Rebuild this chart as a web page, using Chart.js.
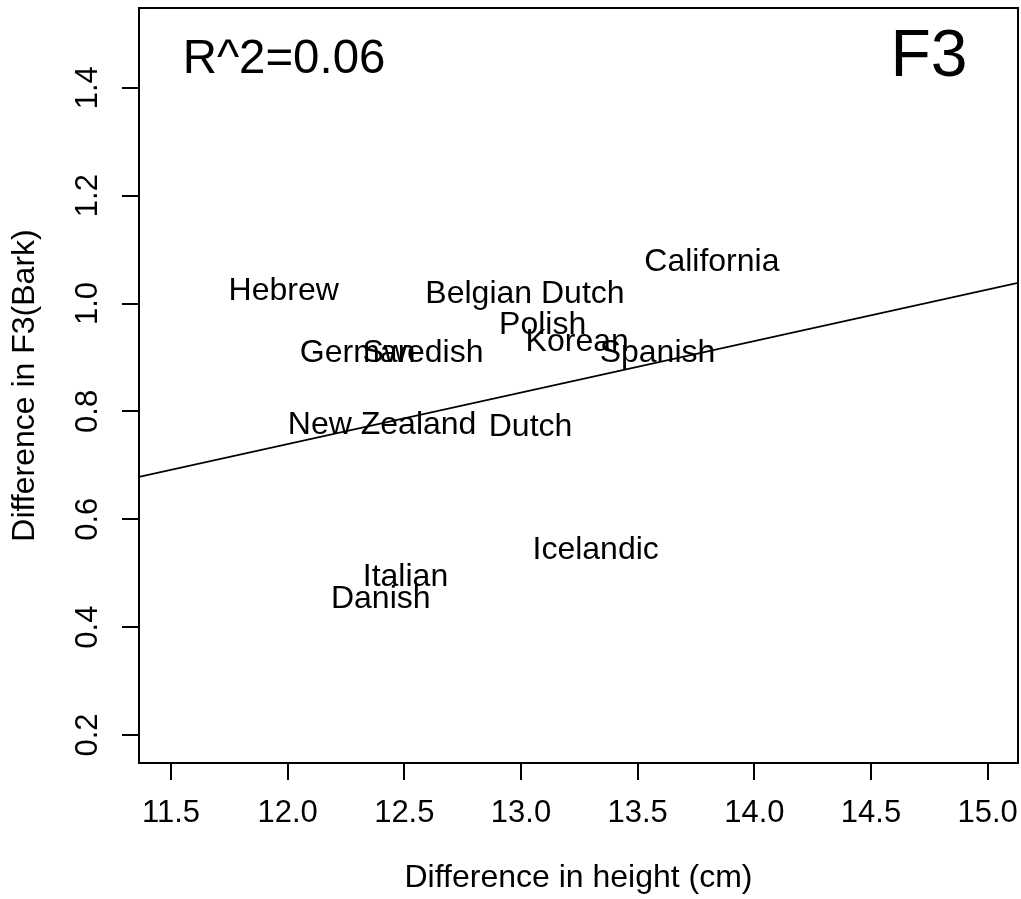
<!DOCTYPE html>
<html>
<head>
<meta charset="utf-8">
<script src="https://cdn.jsdelivr.net/npm/chart.js@4.4.1/dist/chart.umd.min.js"></script>
<style>
  html, body { margin: 0; padding: 0; background: #fff; }
  #wrap { width: 1021px; height: 899px; position: relative; }
</style>
</head>
<body>
<div id="wrap"><canvas id="c"></canvas></div>
<script>
// ---- data ----
const languages = ["Hebrew", "Belgian Dutch", "California", "Polish", "Korean", "Spanish",
                   "German", "Swedish", "New Zealand", "Dutch", "Icelandic", "Italian", "Danish"];
const heightDiff = [11.983, 13.017, 13.818, 13.093, 13.241, 13.585,
                    12.300, 12.580, 12.405, 13.041, 13.320, 12.505, 12.399];
const f3Diff     = [1.028, 1.023, 1.081, 0.964, 0.933, 0.913,
                    0.913, 0.913, 0.779, 0.776, 0.547, 0.498, 0.457];

// regression line endpoints (at the plot edges)
const fitX = [11.363, 15.130];
const fitY = [0.6785, 1.0383];

const xTicks = [11.5, 12.0, 12.5, 13.0, 13.5, 14.0, 14.5, 15.0];
const yTicks = [0.2, 0.4, 0.6, 0.8, 1.0, 1.2, 1.4];

const xTitle = "Difference in height (cm)";
const yTitle = "Difference in F3(Bark)";
const r2Text = "R^2=0.06";
const panelText = "F3";

const FONT = '"Liberation Sans", Arial, Helvetica, sans-serif';

const boxPlugin = {
  id: 'box',
  afterDatasetsDraw(chart) {
    const {ctx, chartArea: a} = chart;
    ctx.save();
    // point labels
    const meta = chart.getDatasetMeta(0);
    ctx.fillStyle = '#000';
    ctx.font = '32px ' + FONT;
    ctx.textAlign = 'center';
    ctx.textBaseline = 'alphabetic';
    meta.data.forEach((el, i) => {
      ctx.fillText(languages[i], el.x, el.y + 32 * 0.36);
    });
    // annotations
    function stretched(text, size, cx, cy, inkW) {
      ctx.font = size + 'px ' + FONT;
      const m = ctx.measureText(text);
      const w = m.actualBoundingBoxLeft + m.actualBoundingBoxRight;
      const sx = inkW ? inkW / w : 1;
      ctx.save();
      ctx.translate(cx, cy + size * 0.36);
      ctx.scale(sx, 1);
      ctx.textAlign = 'center';
      ctx.fillText(text, 0, 0);
      ctx.restore();
    }
    stretched(r2Text, 48, a.left + 145, a.top + 48, 198);
    stretched(panelText, 66, a.left + 790, a.top + 44, 0);
    // box
    ctx.strokeStyle = '#000';
    ctx.lineWidth = 2;
    ctx.strokeRect(a.left, a.top, a.right - a.left, a.bottom - a.top);
    ctx.restore();
  }
};

new Chart(document.getElementById('c'), {
  type: 'scatter',
  data: {
    datasets: [
      {
        label: 'languages',
        data: heightDiff.map((x, i) => ({x: x, y: f3Diff[i]})),
        pointRadius: 0,
        pointHoverRadius: 0,
        showLine: false
      },
      {
        label: 'fit',
        data: fitX.map((x, i) => ({x: x, y: fitY[i]})),
        showLine: true,
        borderColor: '#000',
        borderWidth: 1.6,
        pointRadius: 0,
        fill: false
      }
    ]
  },
  options: {
    responsive: true,
    maintainAspectRatio: false,
    animation: false,
    devicePixelRatio: 1,
    layout: { padding: { top: 8, right: 3, left: 0, bottom: 0 } },
    plugins: { legend: { display: false }, tooltip: { enabled: false } },
    scales: {
      x: {
        type: 'linear',
        min: 11.363, max: 15.130,
        afterBuildTicks: s => { s.ticks = xTicks.map(v => ({value: v})); },
        afterFit: s => { s.height = 136; s.paddingLeft = 0; s.paddingRight = 0; s.paddingTop = 0; s.paddingBottom = 0; },
        grid: { drawOnChartArea: false, drawTicks: true, tickLength: 17, color: '#000', lineWidth: 2 },
        border: { display: false },
        ticks: {
          color: '#000', font: { family: FONT, size: 31 }, padding: 15,
          maxRotation: 0, minRotation: 0,
          callback: v => Number(v).toFixed(1)
        },
        title: {
          display: true, text: xTitle, color: '#000',
          font: { family: FONT, size: 32 }, padding: { top: 0, bottom: 2 }
        }
      },
      y: {
        type: 'linear',
        min: 0.148, max: 1.548,
        afterBuildTicks: s => { s.ticks = yTicks.map(v => ({value: v})); },
        afterFit: s => { s.width = 139; s.paddingLeft = 0; s.paddingRight = 0; s.paddingTop = 0; s.paddingBottom = 0; },
        grid: { drawOnChartArea: false, drawTicks: true, tickLength: 17, color: '#000', lineWidth: 2 },
        border: { display: false },
        ticks: {
          color: '#000', font: { family: FONT, size: 31 }, padding: 12,
          minRotation: 90, maxRotation: 90, crossAlign: 'center',
          callback: v => Number(v).toFixed(1)
        },
        title: {
          display: true, text: yTitle, color: '#000',
          font: { family: FONT, size: 32 }, padding: { top: 6, bottom: 0 }
        }
      }
    }
  },
  plugins: [boxPlugin]
});
</script>
</body>
</html>
